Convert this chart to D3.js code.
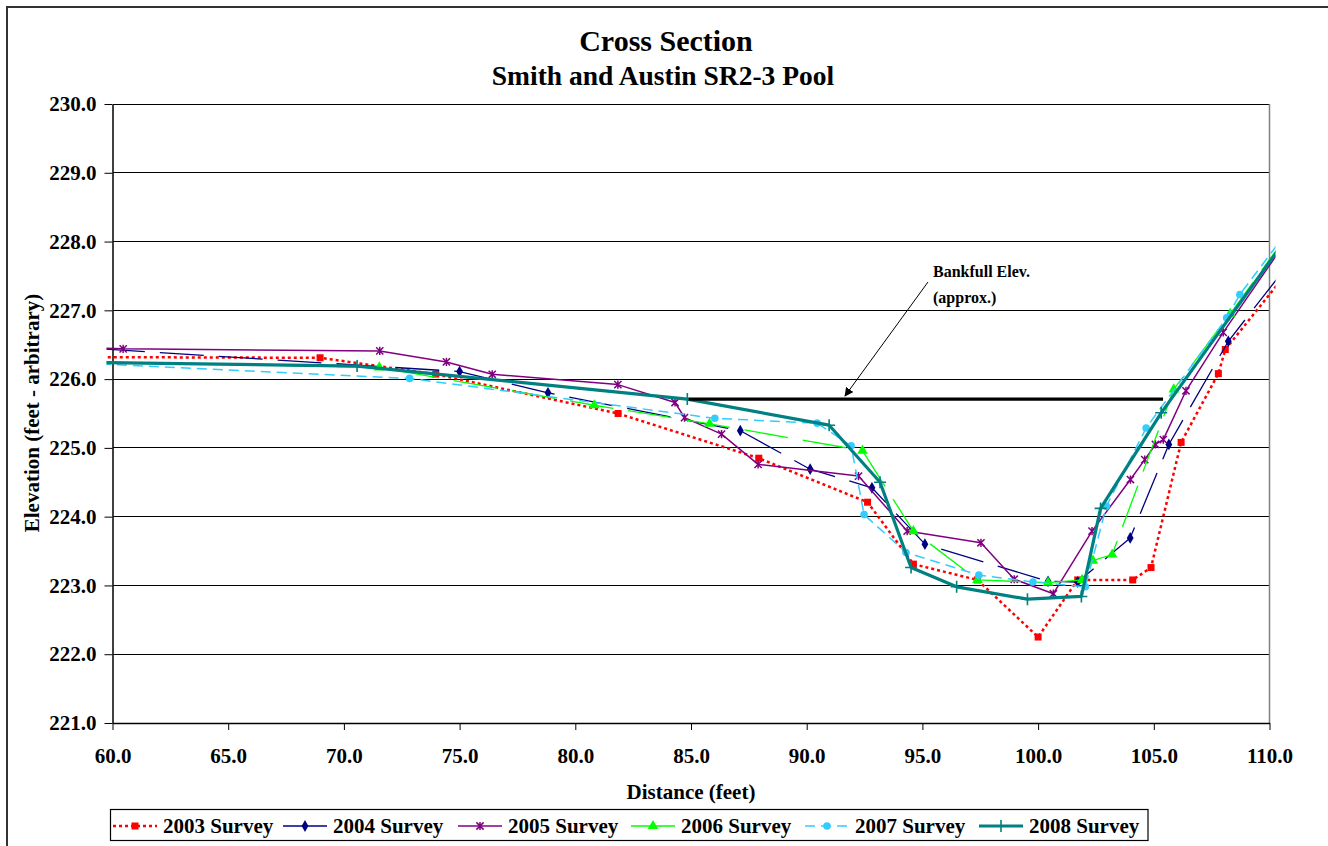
<!DOCTYPE html>
<html>
<head>
<meta charset="utf-8">
<script src="https://cdn.jsdelivr.net/npm/d3@7"></script>
<style>
  html, body { margin: 0; padding: 0; background: #fff; }
  svg text { font-family: "Liberation Serif", "Times New Roman", serif; font-weight: bold; fill: #000; }
</style>
</head>
<body>
<svg id="chart" width="1328" height="846"></svg>
<script>
// ---------- data ----------
const xTicks = [60, 65, 70, 75, 80, 85, 90, 95, 100, 105, 110];
const yTicks = [221, 222, 223, 224, 225, 226, 227, 228, 229, 230];

const seriesNames = ["2003 Survey", "2004 Survey", "2005 Survey", "2006 Survey", "2007 Survey", "2008 Survey"];

const survey2003 = [[58.5,226.32],[68.97,226.31],[73.97,226.07],[81.85,225.50],[87.93,224.85],[92.63,224.21],
  [94.61,223.31],[97.38,223.08],[100.0,222.25],[101.71,223.08],[104.09,223.08],[104.88,223.26],
  [106.18,225.08],[107.79,226.08],[108.09,226.43],[111.0,227.65]];
const survey2004 = [[59.5,226.44],[75.0,226.11],[78.82,225.80],[87.13,225.25],[90.15,224.69],[92.82,224.42],
  [95.11,223.60],[100.43,223.06],[101.71,223.05],[103.98,223.69],[105.65,225.05],[108.22,226.55],[111.0,227.75]];
const survey2005 = [[59.5,226.45],[60.46,226.44],[71.55,226.41],[74.43,226.25],[76.41,226.07],[81.84,225.92],
  [84.31,225.66],[84.72,225.44],[86.32,225.20],[87.90,224.76],[92.24,224.59],[94.34,223.79],[97.53,223.62],
  [98.97,223.09],[100.66,222.88],[102.33,223.79],[103.99,224.54],[104.61,224.83],[105.07,225.05],
  [105.41,225.12],[106.39,225.83],[108.0,226.68],[111.0,228.14]];
const survey2006 = [[59.5,226.25],[71.53,226.17],[80.82,225.62],[85.80,225.35],[92.41,224.96],[94.61,223.79],
  [97.38,223.08],[100.43,223.04],[101.90,223.08],[102.37,223.36],[103.20,223.45],[105.86,225.85],
  [108.3,226.95],[111.0,228.2]];
const survey2007 = [[59.5,226.22],[72.84,226.01],[86.03,225.43],[90.45,225.36],[91.92,225.03],[92.48,224.03],
  [94.29,223.48],[97.44,223.15],[99.78,223.05],[102.04,222.98],[102.95,224.15],[104.67,225.29],
  [108.15,226.89],[108.72,227.23],[111.0,228.25]];
const survey2008 = [[59.5,226.24],[70.57,226.19],[84.84,225.71],[90.97,225.33],[93.17,224.50],[94.51,223.26],
  [96.48,222.98],[99.54,222.80],[101.87,222.84],[102.70,224.12],[105.32,225.51],[111.0,228.17]];

const bankfullX = [84.9, 105.4];
const bankfullY = 225.71;

// ---------- layout ----------
const svg = d3.select("#chart");
const L = 112.5, R = 1269.5, T = 104, B = 723;
const x = d3.scaleLinear().domain([60, 110]).range([L, R]);
const y = d3.scaleLinear().domain([221, 230]).range([B, T]);

// outer chart border
svg.append("rect").attr("x", 7).attr("y", 7).attr("width", 1340).attr("height", 860)
  .attr("fill", "#fff").attr("stroke", "#333").attr("stroke-width", 2);

// titles
svg.append("text").attr("x", 666).attr("y", 51).attr("text-anchor", "middle")
  .style("font-size", "30px").text("Cross Section");
svg.append("text").attr("x", 663).attr("y", 85).attr("text-anchor", "middle")
  .style("font-size", "27.5px").text("Smith and Austin SR2-3 Pool");

// gridlines
svg.append("g").selectAll("line").data(yTicks).join("line")
  .attr("x1", L).attr("x2", R).attr("y1", d => y(d)).attr("y2", d => y(d))
  .attr("stroke", "#000").attr("stroke-width", 1).attr("shape-rendering", "crispEdges");
// right border of plot area
svg.append("line").attr("x1", R).attr("x2", R).attr("y1", T).attr("y2", B)
  .attr("stroke", "#808080").attr("stroke-width", 1.5);

// axes
const yAxis = svg.append("g").attr("transform", `translate(${L},0)`)
  .call(d3.axisLeft(y).tickValues(yTicks).tickFormat(d => d.toFixed(1)).tickSizeInner(8).tickSizeOuter(0).tickPadding(8));
const xAxis = svg.append("g").attr("transform", `translate(0,${B})`)
  .call(d3.axisBottom(x).tickValues(xTicks).tickFormat(d => d.toFixed(1)).tickSizeInner(7).tickSizeOuter(0).tickPadding(18));
[yAxis, xAxis].forEach(a => {
  a.selectAll("path.domain").attr("stroke", "#000").attr("stroke-width", 1.5);
  a.selectAll(".tick line").attr("stroke", "#000").attr("stroke-width", 1);
  a.selectAll("text").style("font-size", "21px").style("font-family", "Liberation Serif").style("font-weight", "bold");
});

// axis titles
svg.append("text").attr("transform", "translate(39,413) rotate(-90)").attr("text-anchor", "middle")
  .style("font-size", "21px").text("Elevation (feet - arbitrary)");
svg.append("text").attr("x", 691).attr("y", 799).attr("text-anchor", "middle")
  .style("font-size", "21px").text("Distance (feet)");

// clip
svg.append("defs").append("clipPath").attr("id", "plotclip").append("rect")
  .attr("x", L - 6).attr("y", T - 4).attr("width", R - L + 12).attr("height", B - T + 8);

const styles = [
  { data: survey2003, color: "#FF0000", width: 2.5, dash: "3,3", marker: "square" },
  { data: survey2004, color: "#000080", width: 1.3, dash: "44,15", marker: "diamond" },
  { data: survey2005, color: "#800080", width: 1.5, dash: null, marker: "star" },
  { data: survey2006, color: "#00FF00", width: 1.3, dash: "44,15", marker: "triangle" },
  { data: survey2007, color: "#33CCFF", width: 1.5, dash: "10,6", marker: "circle" },
  { data: survey2008, color: "#008080", width: 3.2, dash: null, marker: "plus" }
];

function drawMarker(g, type, color, cx, cy) {
  if (type === "square") {
    g.append("rect").attr("x", cx - 3.5).attr("y", cy - 3.5).attr("width", 7).attr("height", 7).attr("fill", color);
  } else if (type === "diamond") {
    g.append("path").attr("d", d3.symbol(d3.symbolDiamond, 40)()).attr("transform", `translate(${cx},${cy})`).attr("fill", color);
  } else if (type === "triangle") {
    g.append("path").attr("d", d3.symbol(d3.symbolTriangle, 48)()).attr("transform", `translate(${cx},${cy})`).attr("fill", color);
  } else if (type === "circle") {
    g.append("circle").attr("cx", cx).attr("cy", cy).attr("r", 3.8).attr("fill", color);
  } else if (type === "star") {
    const s = 3.6;
    g.append("path").attr("d", `M${cx - s},${cy - s}L${cx + s},${cy + s}M${cx - s},${cy + s}L${cx + s},${cy - s}M${cx},${cy - s - 0.5}L${cx},${cy + s + 0.5}`)
      .attr("stroke", color).attr("stroke-width", 1.5).attr("fill", "none");
  } else if (type === "plus") {
    const s = 6;
    g.append("path").attr("d", `M${cx - s},${cy}L${cx + s},${cy}M${cx},${cy - s}L${cx},${cy + s}`)
      .attr("stroke", color).attr("stroke-width", 1.6).attr("fill", "none");
  }
}

const lineGen = d3.line().x(d => x(d[0])).y(d => y(d[1]));
const plot = svg.append("g").attr("clip-path", "url(#plotclip)");
styles.forEach(s => {
  const g = plot.append("g");
  g.append("path").datum(s.data).attr("d", lineGen).attr("fill", "none")
    .attr("stroke", s.color).attr("stroke-width", s.width)
    .attr("stroke-dasharray", s.dash).attr("stroke-linejoin", "round");
  s.data.filter(d => d[0] >= 60 && d[0] <= 110).forEach(d => drawMarker(g, s.marker, s.color, x(d[0]), y(d[1])));
});

// bankfull line
svg.append("line").attr("x1", x(bankfullX[0])).attr("x2", x(bankfullX[1]))
  .attr("y1", y(bankfullY)).attr("y2", y(bankfullY)).attr("stroke", "#000").attr("stroke-width", 3.2);

// annotation
svg.append("defs").append("marker").attr("id", "arrow").attr("viewBox", "0 0 10 10")
  .attr("refX", 9).attr("refY", 5).attr("markerWidth", 9).attr("markerHeight", 9)
  .attr("markerUnits", "userSpaceOnUse").attr("orient", "auto")
  .append("path").attr("d", "M0,0L10,5L0,10Z").attr("fill", "#000");
svg.append("line").attr("x1", 928).attr("y1", 282).attr("x2", 845).attr("y2", 396)
  .attr("stroke", "#000").attr("stroke-width", 1).attr("marker-end", "url(#arrow)");
svg.append("text").attr("x", 933).attr("y", 277).style("font-size", "16px").text("Bankfull Elev.");
svg.append("text").attr("x", 933).attr("y", 303).style("font-size", "16px").text("(approx.)");

// legend
svg.append("rect").attr("x", 110.5).attr("y", 809.5).attr("width", 1037.5).attr("height", 31)
  .attr("fill", "#fff").attr("stroke", "#000").attr("stroke-width", 1.2);
const legendStart = [113, 283, 458, 631, 805, 979];
styles.forEach((s, i) => {
  const g = svg.append("g");
  const x0 = legendStart[i], x1 = x0 + 44, ly = 826;
  g.append("line").attr("x1", x0).attr("x2", x1).attr("y1", ly).attr("y2", ly)
    .attr("stroke", s.color).attr("stroke-width", s.width)
    .attr("stroke-dasharray", s.dash === "44,15" ? null : s.dash);
  drawMarker(g, s.marker, s.color, (x0 + x1) / 2, ly);
  g.append("text").attr("x", x1 + 6).attr("y", 833).style("font-size", "21px").text(seriesNames[i]);
});
</script>
</body>
</html>
